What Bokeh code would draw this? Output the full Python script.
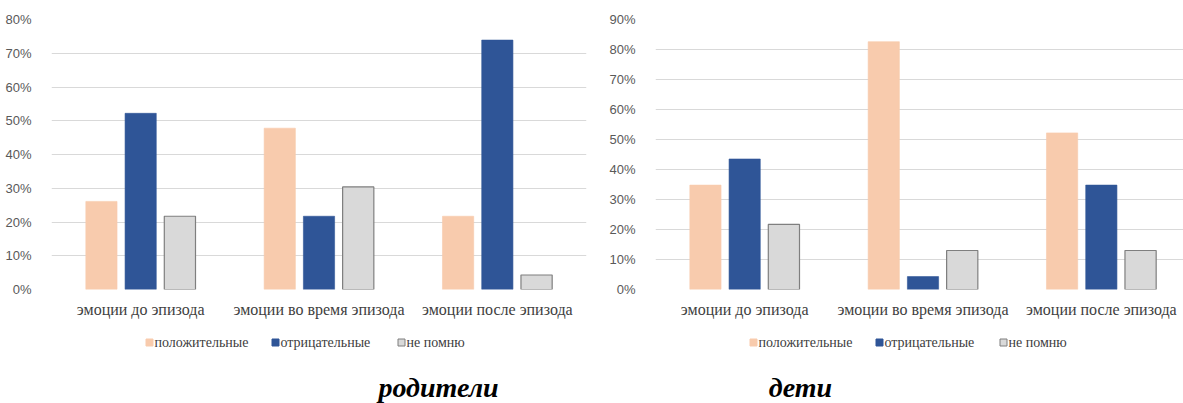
from bokeh.plotting import figure
from bokeh.layouts import row, column
from bokeh.models import ColumnDataSource, Range1d, FixedTicker, NumeralTickFormatter
from bokeh.core.properties import value
from bokeh.transform import dodge
from bokeh.embed import file_html
from bokeh.resources import INLINE

# --- data -------------------------------------------------------------
categories = ["эмоции до эпизода", "эмоции во время эпизода", "эмоции после эпизода"]
series_names = ["положительные", "отрицательные", "не помню"]

parents_positive = [0.261, 0.478, 0.217]
parents_negative = [0.522, 0.217, 0.739]
parents_dontknow = [0.217, 0.304, 0.043]

children_positive = [0.348, 0.826, 0.522]
children_negative = [0.435, 0.043, 0.348]
children_dontknow = [0.217, 0.130, 0.130]

parents_ticks = [0.0, 0.1, 0.2, 0.3, 0.4, 0.5, 0.6, 0.7, 0.8]
children_ticks = [0.0, 0.1, 0.2, 0.3, 0.4, 0.5, 0.6, 0.7, 0.8, 0.9]

# --- styling ----------------------------------------------------------
FILL = ["#F8CBAD", "#2F5597", "#D9D9D9"]
LINE = ["#F8CBAD", "#2F5597", "#7F7F7F"]
OFFSETS = [-0.22, 0.0, 0.22]
BAR_W = 0.175
SERIF = "Liberation Serif"
SANS = "Liberation Sans"
CHART_H = 330
FOOTER_H = 403 - CHART_H


def make_chart(pos, neg, dk, ticks, width, left, right, x_end):
    src = ColumnDataSource(dict(idx=list(range(len(categories))), pos=pos, neg=neg, dk=dk))
    p = figure(width=width, height=CHART_H, output_backend="svg", toolbar_location=None,
               x_range=Range1d(-0.5, x_end), y_range=Range1d(0, ticks[-1]),
               min_border_left=left, min_border_right=right,
               min_border_top=19, min_border_bottom=CHART_H - 289)
    p.outline_line_color = None

    for field, off, fc, lc in zip(["pos", "neg", "dk"], OFFSETS, FILL, LINE):
        p.vbar(x=dodge("idx", off), top=field, width=BAR_W, bottom=0, source=src,
               fill_color=fc, line_color=lc, line_width=1.2 if field == "dk" else 0.6)

    p.yaxis.ticker = FixedTicker(ticks=ticks)
    p.yaxis.formatter = NumeralTickFormatter(format="0%")
    p.yaxis.axis_line_color = None
    p.yaxis.major_tick_line_color = None
    p.yaxis.minor_tick_line_color = None
    p.yaxis.major_label_standoff = 14
    p.yaxis.major_label_text_font = SANS
    p.yaxis.major_label_text_font_size = "13px"
    p.yaxis.major_label_text_color = "#595959"

    p.xaxis.ticker = FixedTicker(ticks=list(range(len(categories))))
    p.xaxis.major_label_overrides = {i: c for i, c in enumerate(categories)}
    p.xaxis.axis_line_color = None
    p.xaxis.major_tick_line_color = None
    p.xaxis.minor_tick_line_color = None
    p.xaxis.major_label_standoff = 5
    p.xaxis.major_label_text_font = SERIF
    p.xaxis.major_label_text_font_size = "16px"
    p.xaxis.major_label_text_color = "#404040"

    p.xgrid.grid_line_color = None
    p.ygrid.ticker = FixedTicker(ticks=ticks)
    p.ygrid.grid_line_color = "#D9D9D9"
    p.ygrid.grid_line_width = 1
    return p


def make_footer(title, width, left, right, legend_x, title_x):
    # panel under a chart, in page-pixel coordinates: legend swatches, labels, caption
    f = figure(width=width, height=FOOTER_H, output_backend="svg", toolbar_location=None,
               x_range=Range1d(left, width - right), y_range=Range1d(FOOTER_H, 0),
               x_axis_location=None, y_axis_location=None,
               min_border_left=left, min_border_right=right,
               min_border_top=0, min_border_bottom=0)
    f.outline_line_color = None
    f.xgrid.visible = False
    f.ygrid.visible = False
    leg = ColumnDataSource(dict(x=legend_x, tx=[x + 5 for x in legend_x],
                                y=[12] * 3, name=series_names, fill=FILL, line=LINE))
    f.rect(x="x", y="y", width=7, height=7, source=leg, fill_color="fill", line_color="line",
           line_width=1)
    f.text(x="tx", y="y", text="name", source=leg, text_font=value(SERIF),
           text_font_size="14px", text_color="#404040", text_baseline="middle",
           text_align="left")
    f.text(x=[title_x], y=[57], text=[title], text_font=value(SERIF),
           text_font_style="bold italic", text_font_size="28px", text_color="black",
           text_align="center", text_baseline="middle")
    return f


p1 = make_chart(parents_positive, parents_negative, parents_dontknow,
                parents_ticks, 600, 51, 14, 2.5)
p2 = make_chart(children_positive, children_negative, children_dontknow,
                children_ticks, 583, 55, 0, -0.5 + 528 / (535 / 3))

f1 = make_footer("родители", 600, 51, 14, [149, 275, 401], 438)
f2 = make_footer("дети", 583, 55, 0, [153, 279, 403], 200)

layout = row(column(p1, f1, spacing=0), column(p2, f2, spacing=0), spacing=0)
open("out.html", "w").write(file_html(layout, INLINE))
